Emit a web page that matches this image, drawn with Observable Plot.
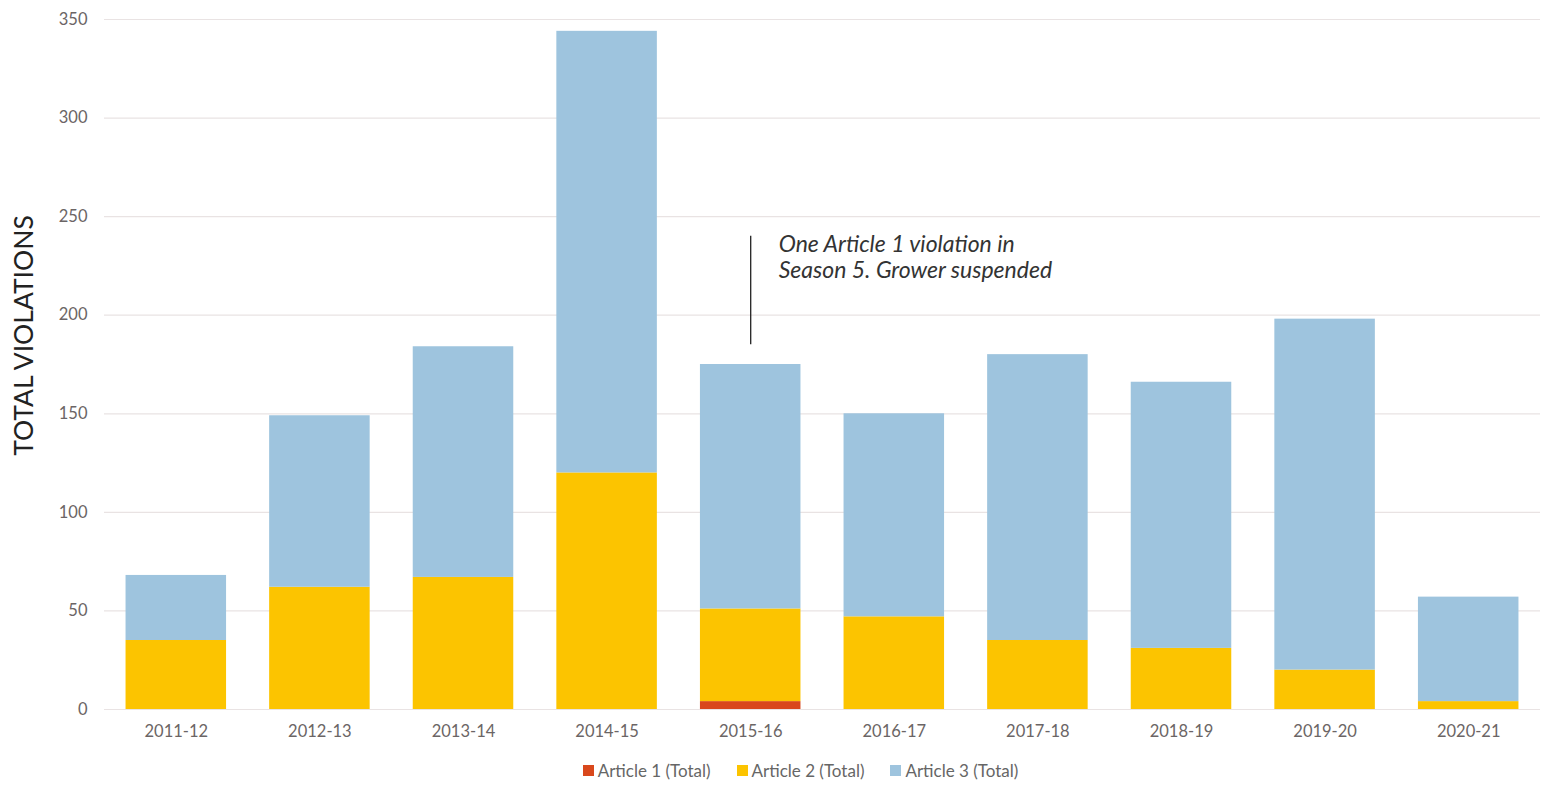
<!DOCTYPE html>
<html>
<head>
<meta charset="utf-8">
<script src="https://cdn.jsdelivr.net/npm/d3@7"></script>
<script src="https://cdn.jsdelivr.net/npm/@observablehq/plot@0.6"></script>
<style>
  html, body { margin: 0; padding: 0; background: #fff; }
  body { width: 1545px; height: 787px; overflow: hidden; font-family: Lato, "Open Sans", sans-serif; }
  #legend { display: flex; justify-content: center; gap: 26px; margin-top: 18px; padding-left: 56px; font-size: 17px; color: #666; }
  #legend .item { display: flex; align-items: center; gap: 4px; }
  #legend .sw { width: 11px; height: 11px; display: inline-block; }
</style>
</head>
<body>
<div id="chart"></div>
<div id="legend"></div>
<script>
const seasons = ["2011-12","2012-13","2013-14","2014-15","2015-16","2016-17","2017-18","2018-19","2019-20","2020-21"];
const article1 = [0, 0, 0, 0, 4, 0, 0, 0, 0, 0];
const article2 = [35, 62, 67, 120, 47, 47, 35, 31, 20, 4];
const article3 = [33, 87, 117, 224, 124, 103, 145, 135, 178, 53];
const seriesNames = ["Article 1 (Total)", "Article 2 (Total)", "Article 3 (Total)"];
const seriesColors = ["#d9481c", "#fcc400", "#9ec4de"];
const yTicks = [0, 50, 100, 150, 200, 250, 300, 350];
const annotationSeason = "2015-16";
const annotationRange = [185, 240];
const annotationText = "One Article 1 violation in\nSeason 5. Grower suspended";

const data = [];
[article1, article2, article3].forEach((arr, si) => {
  arr.forEach((v, i) => data.push({season: seasons[i], series: seriesNames[si], value: v}));
});

const chart = Plot.plot({
  width: 1545,
  height: 742,
  marginTop: 19,
  marginBottom: 33,
  marginLeft: 104,
  marginRight: 5,
  style: {fontFamily: "Lato, 'Open Sans', sans-serif", fontSize: "16px", color: "#6b6565"},
  x: {domain: seasons, paddingInner: 0.3, paddingOuter: 0.15, round: false, label: null},
  y: {domain: [0, 350], ticks: yTicks, label: null},
  color: {domain: seriesNames, range: seriesColors},
  marks: [
    Plot.ruleY(yTicks, {stroke: "#e9e3e3", strokeWidth: 1.2}),
    Plot.barY(data, {x: "season", y: "value", fill: "series", order: seriesNames}),
    Plot.axisX({tickSize: 0, tickPadding: 16, fontSize: 16.5, fill: "#6b6565"}),
    Plot.axisY({ticks: yTicks, tickSize: 0, tickPadding: 17, fontSize: 16.5, fill: "#6b6565", label: null}),
    Plot.text(["TOTAL VIOLATIONS"], {frameAnchor: "left", textAnchor: "middle", dx: -80, dy: -29, rotate: -90, fontSize: 26.5, fill: "#222", text: d => d}),
    Plot.ruleX([annotationSeason], {x: d => d, y1: annotationRange[0], y2: annotationRange[1], stroke: "#222", strokeWidth: 1.3}),
    Plot.text([annotationText], {x: () => annotationSeason, y: annotationRange[1], dx: 28, dy: -3, textAnchor: "start", lineAnchor: "top", lineHeight: 1.14, fontSize: 23, fontStyle: "italic", fill: "#333", text: d => d})
  ]
});
document.getElementById("chart").appendChild(chart);

const legend = document.getElementById("legend");
seriesNames.forEach((n, i) => {
  const it = document.createElement("span");
  it.className = "item";
  const sw = document.createElement("span");
  sw.className = "sw";
  sw.style.background = seriesColors[i];
  it.appendChild(sw);
  it.appendChild(document.createTextNode(n));
  legend.appendChild(it);
});
</script>
</body>
</html>
